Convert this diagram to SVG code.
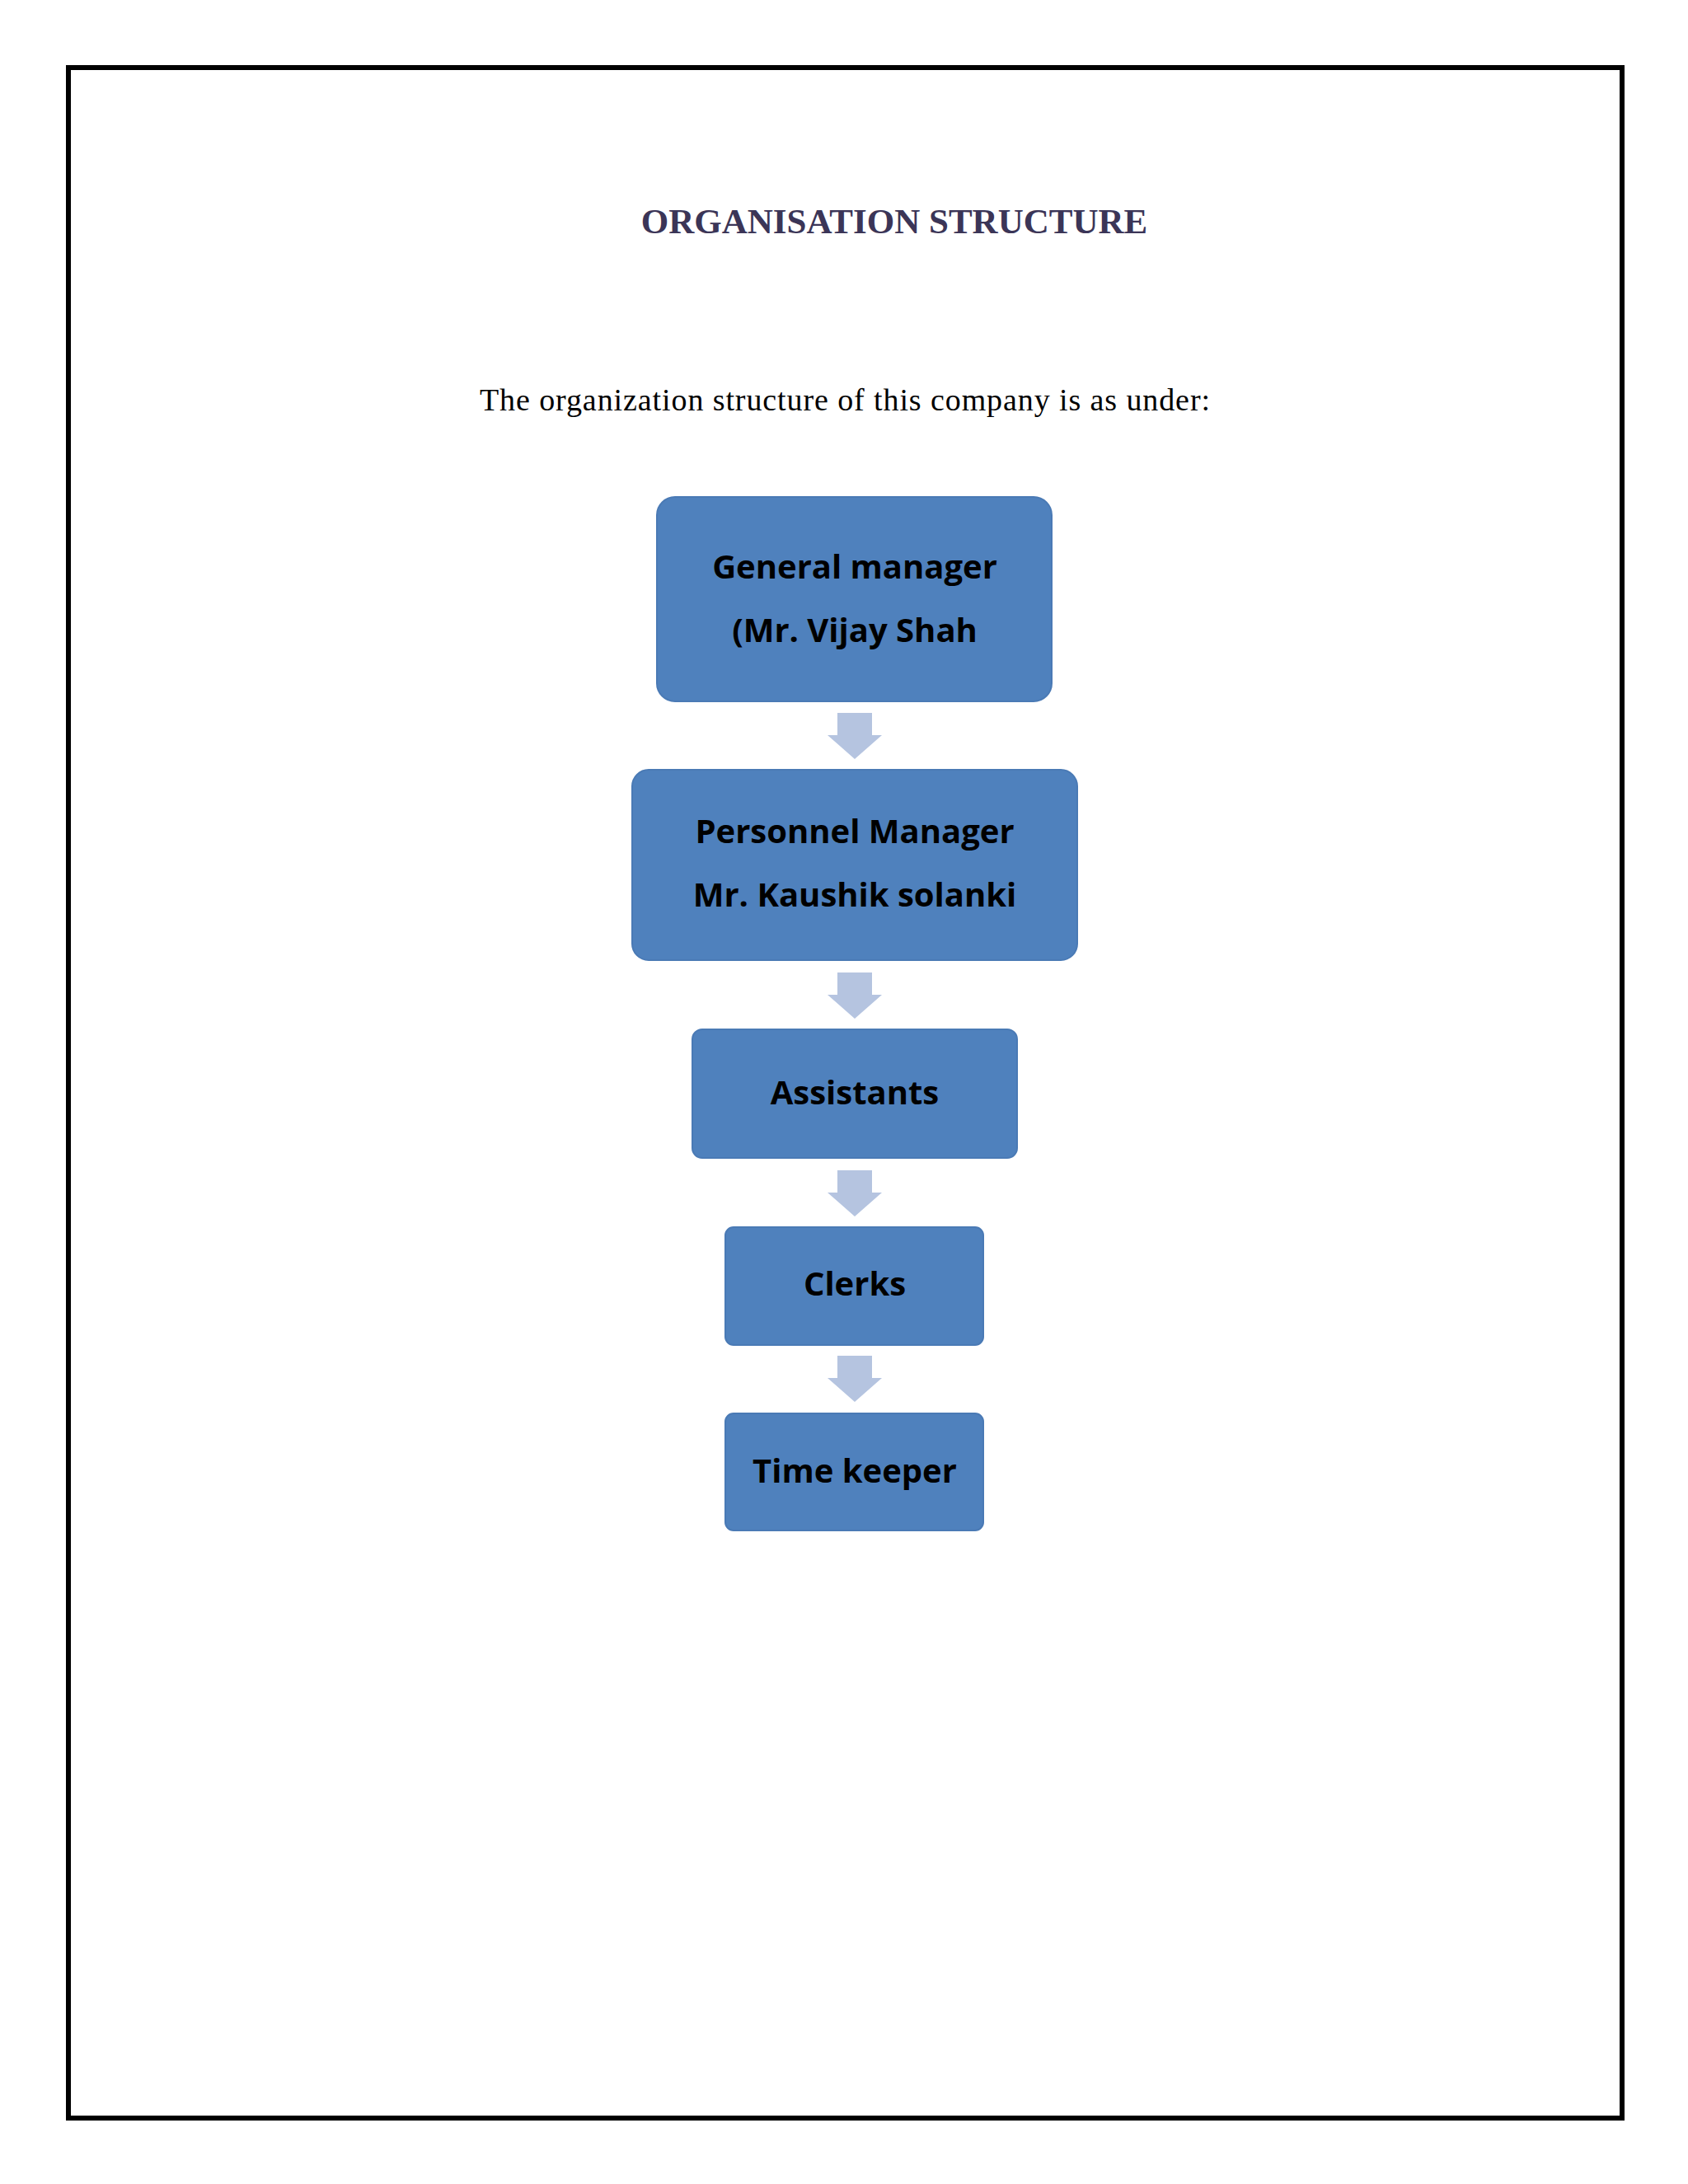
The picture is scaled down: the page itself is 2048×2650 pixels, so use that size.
<svg xmlns="http://www.w3.org/2000/svg" width="2048" height="2650" viewBox="0 0 2048 2650">
<style>
.box{fill:#4f81bd;stroke:#4a7ab5;stroke-width:2}
.lbl{font-family:"Open Sans","Liberation Sans",sans-serif;font-weight:bold;font-size:40px;fill:#000;text-anchor:middle}
.arr{fill:#b5c4e0}
</style>
<rect x="0" y="0" width="2048" height="2650" fill="#fff"/>
<rect x="83" y="82" width="1885" height="2488" fill="none" stroke="#000" stroke-width="6"/>
<text x="1085" y="283" font-family="Liberation Serif,serif" font-weight="bold" font-size="43" fill="#3b3557" text-anchor="middle">ORGANISATION STRUCTURE</text>
<text x="582" y="498" font-family="Liberation Serif,serif" font-size="38" fill="#000" textLength="886">The organization structure of this company is as under:</text>
<g id="connectors">
<path class="arr" d="M1016 865H1058V892H1070L1037 921L1004 892H1016Z"/>
<path class="arr" d="M1016 1180H1058V1207H1070L1037 1236L1004 1207H1016Z"/>
<path class="arr" d="M1016 1420H1058V1447H1070L1037 1476L1004 1447H1016Z"/>
<path class="arr" d="M1016 1645H1058V1672H1070L1037 1701L1004 1672H1016Z"/>
</g>
<g id="gm"><rect class="box" x="797" y="603" width="479" height="248" rx="22"/>
<text class="lbl" x="1037" y="702">General manager</text><text class="lbl" x="1037" y="779">(Mr. Vijay Shah</text></g>
<g id="pm"><rect class="box" x="767" y="934" width="540" height="231" rx="20"/>
<text class="lbl" x="1037" y="1023">Personnel Manager</text><text class="lbl" x="1037" y="1100">Mr. Kaushik solanki</text></g>
<g id="assistants"><rect class="box" x="840" y="1249" width="394" height="156" rx="12"/>
<text class="lbl" x="1037" y="1340">Assistants</text></g>
<g id="clerks"><rect class="box" x="880" y="1489" width="313" height="143" rx="10"/>
<text class="lbl" x="1037" y="1572">Clerks</text></g>
<g id="timekeeper"><rect class="box" x="880" y="1715" width="313" height="142" rx="10"/>
<text class="lbl" x="1037" y="1799">Time keeper</text></g>
</svg>
